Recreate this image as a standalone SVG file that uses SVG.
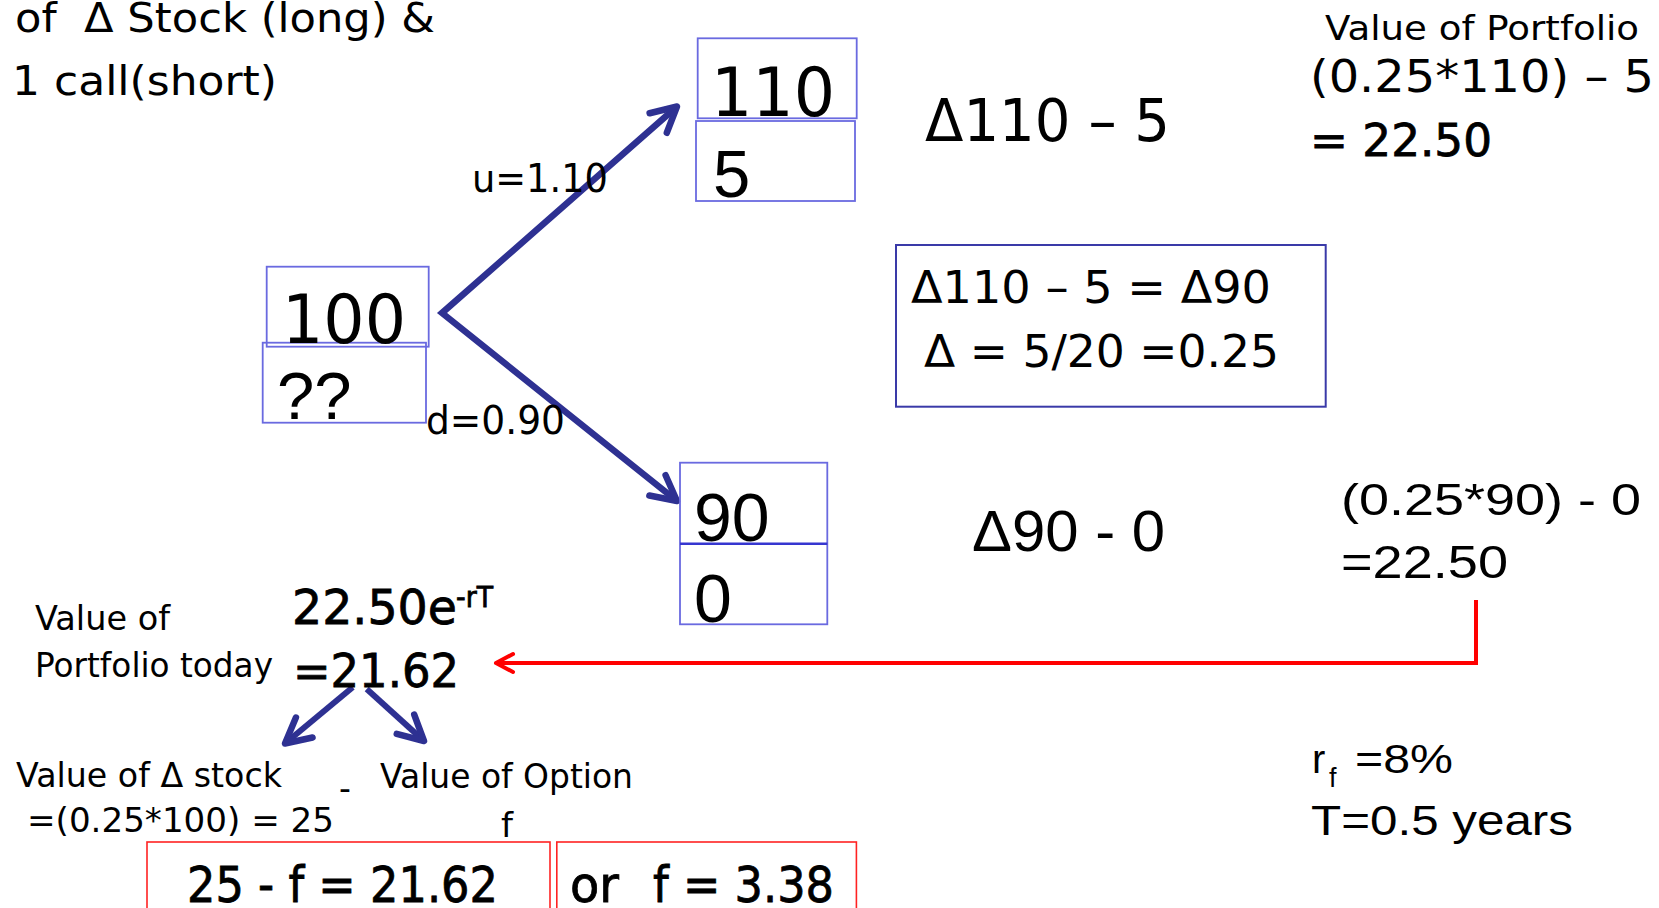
<svg xmlns="http://www.w3.org/2000/svg" width="1659" height="908" viewBox="0 0 1659 908">
<style>
.t{font-family:"DejaVu Sans",Verdana,sans-serif;fill:#000}
.a{font-family:"Liberation Sans",Arial,sans-serif;fill:#000}
.b{stroke:#000;stroke-width:0.8}
.box{fill:none;stroke:#6a6ae0;stroke-width:1.8}
.rbox{fill:none;stroke:#ff2222;stroke-width:1.6}
.blue{fill:none;stroke:#2E3192;stroke-width:6.5;stroke-linejoin:miter}
.red{fill:none;stroke:#ff0000;stroke-width:4;stroke-linejoin:miter}
</style>
<defs>
<marker id="arrBlue" markerUnits="userSpaceOnUse" viewBox="-30 -18 36 36" refX="0" refY="0" markerWidth="36" markerHeight="36" orient="auto-start-reverse" overflow="visible">
<path d="M-25,-13 L0,0 L-25,13" fill="none" stroke="#2E3192" stroke-width="6.5" stroke-linecap="round" stroke-linejoin="round"/>
</marker>
<marker id="arrRed" markerUnits="userSpaceOnUse" viewBox="-20 -12 24 24" refX="0" refY="0" markerWidth="24" markerHeight="24" orient="auto" overflow="visible">
<path d="M-17,-9 L0,0 L-17,9" fill="none" stroke="#ff0000" stroke-width="4" stroke-linecap="round" stroke-linejoin="round"/>
</marker>
</defs>

<rect width="1659" height="908" fill="#fff"/>

<g id="title">
<text class="t" xml:space="preserve" x="15" y="32" font-size="41" textLength="420" lengthAdjust="spacingAndGlyphs">of  Δ Stock (long) &amp;</text>
<text class="t" x="12" y="95" font-size="41" textLength="265" lengthAdjust="spacingAndGlyphs">1 call(short)</text>
</g>

<g id="connectors">
<path class="blue" d="M677,106.5 L442,313 L677,501" marker-start="url(#arrBlue)" marker-end="url(#arrBlue)"/>
<path class="blue" style="stroke-width:6" d="M352.7,687.3 L285,743.5" marker-end="url(#arrBlue)"/>
<path class="blue" style="stroke-width:6" d="M366.7,689 L424,741" marker-end="url(#arrBlue)"/>
<path class="red" d="M1476,600 L1476,663 L496,663" marker-end="url(#arrRed)"/>
</g>

<g id="node-root">
<rect class="box" x="266.7" y="266.7" width="162" height="80"/>
<rect class="box" x="262.7" y="342.7" width="163.3" height="80"/>
<text class="t" x="282" y="342.7" font-size="67" textLength="124" lengthAdjust="spacingAndGlyphs">100</text>
<text class="a" x="277" y="419.3" font-size="67">??</text>
</g>

<g id="node-up">
<rect class="box" x="697.7" y="38.3" width="159" height="80"/>
<rect class="box" x="696" y="121" width="159" height="80"/>
<text class="t" x="711" y="116" font-size="67" textLength="124" lengthAdjust="spacingAndGlyphs">110</text>
<text class="a" x="713" y="197.3" font-size="67">5</text>
</g>

<g id="node-down">
<rect class="box" x="680" y="462.7" width="147.3" height="161.6"/>
<line x1="680" y1="543.7" x2="827.3" y2="543.7" stroke="#3636d0" stroke-width="2.5"/>
<text class="a" x="694" y="540.7" font-size="68">90</text>
<text class="a" x="694" y="621.7" font-size="68">0</text>
</g>

<g id="labels">
<text class="t" x="472" y="191.7" font-size="39" textLength="136" lengthAdjust="spacingAndGlyphs">u=1.10</text>
<text class="t" x="426" y="434.3" font-size="39" textLength="139" lengthAdjust="spacingAndGlyphs">d=0.90</text>
<text class="t" x="925" y="140.7" font-size="58" textLength="245" lengthAdjust="spacingAndGlyphs">Δ110 – 5</text>
<text class="a" x="972" y="551" font-size="58" textLength="193" lengthAdjust="spacingAndGlyphs">Δ90 - 0</text>
</g>

<g id="portfolio-up">
<text class="t" x="1325" y="40" font-size="34" textLength="314" lengthAdjust="spacingAndGlyphs">Value of Portfolio</text>
<text class="t" x="1310" y="91.7" font-size="44" textLength="344" lengthAdjust="spacingAndGlyphs">(0.25*110) – 5</text>
<text class="t b" x="1310" y="155.7" font-size="44" textLength="182" lengthAdjust="spacingAndGlyphs">= 22.50</text>
</g>

<g id="delta-box">
<rect x="896" y="245" width="429.7" height="161.7" fill="none" stroke="#3a3aa8" stroke-width="2"/>
<text class="t" x="911" y="303.3" font-size="44" textLength="360" lengthAdjust="spacingAndGlyphs">Δ110 – 5 = Δ90</text>
<text class="t" x="924" y="367.3" font-size="44" textLength="355" lengthAdjust="spacingAndGlyphs">Δ = 5/20 =0.25</text>
</g>

<g id="portfolio-down">
<text class="a" x="1341" y="515" font-size="44" textLength="300" lengthAdjust="spacingAndGlyphs">(0.25*90) - 0</text>
<text class="a" x="1341" y="578.3" font-size="46" textLength="167" lengthAdjust="spacingAndGlyphs">=22.50</text>
</g>

<g id="portfolio-today">
<text class="t" x="35" y="630" font-size="34" textLength="135" lengthAdjust="spacingAndGlyphs">Value of</text>
<text class="t" x="35" y="677.3" font-size="34" textLength="238" lengthAdjust="spacingAndGlyphs">Portfolio today</text>
<text class="t b" x="292" y="624" font-size="48"><tspan textLength="165" lengthAdjust="spacingAndGlyphs">22.50e</tspan><tspan x="456" y="607" font-size="28" textLength="37" lengthAdjust="spacingAndGlyphs">-rT</tspan></text>
<text class="t b" x="293" y="687.3" font-size="46" textLength="166" lengthAdjust="spacingAndGlyphs">=21.62</text>
</g>

<g id="stock-option">
<text class="t" x="16" y="786.7" font-size="34" textLength="266" lengthAdjust="spacingAndGlyphs">Value of Δ stock</text>
<text class="t" x="27" y="831.7" font-size="33" textLength="307" lengthAdjust="spacingAndGlyphs">=(0.25*100) = 25</text>
<text class="t" x="339" y="800" font-size="33">-</text>
<text class="t" x="380" y="788.3" font-size="34" textLength="253" lengthAdjust="spacingAndGlyphs">Value of Option</text>
<text class="t" x="501" y="836.7" font-size="34">f</text>
</g>

<g id="result-1">
<rect class="rbox" x="147" y="842" width="403" height="80"/>
<text class="t b" x="187" y="901.7" font-size="49" textLength="311" lengthAdjust="spacingAndGlyphs">25 - f = 21.62</text>
</g>

<g id="result-2">
<rect class="rbox" x="556.8" y="842" width="299.6" height="80"/>
<text class="t b" y="901.7" font-size="49"><tspan x="570" textLength="49" lengthAdjust="spacingAndGlyphs">or</tspan><tspan x="653" textLength="181" lengthAdjust="spacingAndGlyphs">f = 3.38</tspan></text>
</g>

<g id="params">
<text class="a" x="1312" y="773.3" font-size="40">r<tspan x="1329" y="787" font-size="27">f</tspan><tspan x="1355" y="773.3" textLength="98" lengthAdjust="spacingAndGlyphs">=8%</tspan></text>
<text class="a" x="1311" y="835" font-size="42" textLength="262" lengthAdjust="spacingAndGlyphs">T=0.5 years</text>
</g>
</svg>
